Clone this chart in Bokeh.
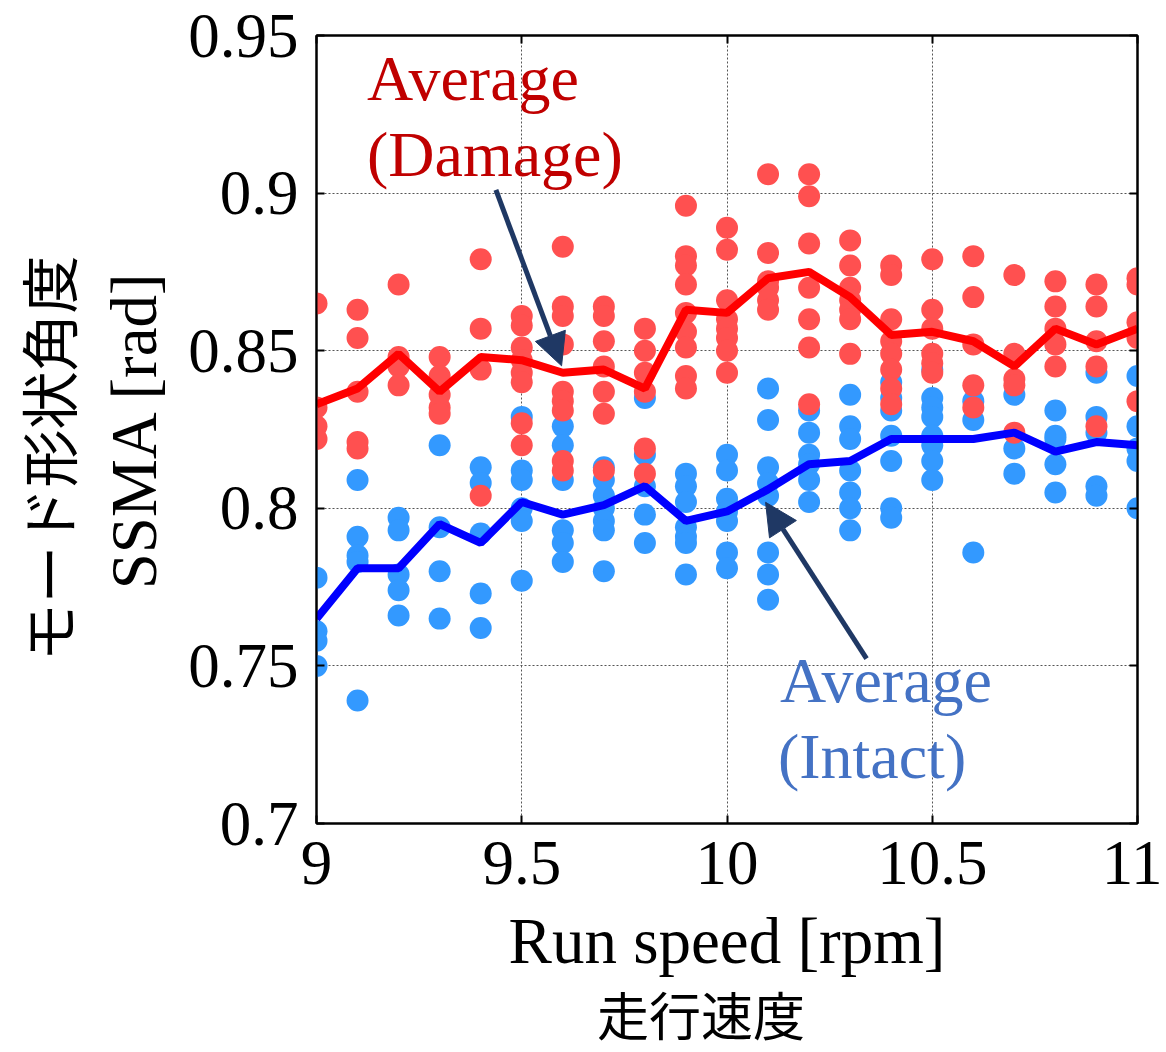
import math
from bokeh.plotting import figure
from bokeh.models import (Range1d, FixedTicker, NumeralTickFormatter, LinearAxis,
                          Label, Arrow, NormalHead, ColumnDataSource)
from bokeh.embed import file_html
from bokeh.resources import INLINE

# ---------------- data ----------------
speeds = [9.0, 9.1, 9.2, 9.3, 9.4, 9.5, 9.6, 9.7, 9.8, 9.9, 10.0,
          10.1, 10.2, 10.3, 10.4, 10.5, 10.6, 10.7, 10.8, 10.9, 11.0]

damage_points = [
    [0.865, 0.832, 0.826, 0.822],
    [0.863, 0.854, 0.837, 0.821, 0.819],
    [0.871, 0.848, 0.845, 0.839],
    [0.848, 0.842, 0.836, 0.832, 0.830],
    [0.879, 0.857, 0.844, 0.804],
    [0.861, 0.858, 0.851, 0.847, 0.843, 0.840, 0.827, 0.820],
    [0.883, 0.864, 0.861, 0.852, 0.837, 0.834, 0.831, 0.815, 0.812],
    [0.864, 0.861, 0.853, 0.845, 0.837, 0.830, 0.812],
    [0.857, 0.850, 0.843, 0.837, 0.819, 0.811],
    [0.896, 0.880, 0.877, 0.871, 0.862, 0.856, 0.851, 0.842, 0.838],
    [0.889, 0.882, 0.866, 0.860, 0.857, 0.854, 0.850, 0.843],
    [0.906, 0.881, 0.872, 0.870, 0.866, 0.863],
    [0.906, 0.899, 0.884, 0.870, 0.860, 0.851, 0.833],
    [0.885, 0.877, 0.870, 0.866, 0.863, 0.860, 0.849],
    [0.877, 0.874, 0.860, 0.853, 0.849, 0.844, 0.838, 0.833],
    [0.879, 0.863, 0.857, 0.849, 0.846, 0.843],
    [0.880, 0.867, 0.852, 0.839, 0.832],
    [0.874, 0.849, 0.841, 0.839, 0.824],
    [0.872, 0.864, 0.857, 0.852, 0.845],
    [0.871, 0.864, 0.853, 0.845, 0.826],
    [0.873, 0.871, 0.859, 0.854, 0.834],
]

intact_points = [
    [0.778, 0.761, 0.758, 0.750],
    [0.809, 0.791, 0.785, 0.783, 0.739],
    [0.797, 0.793, 0.779, 0.774, 0.766],
    [0.820, 0.794, 0.780, 0.765],
    [0.813, 0.808, 0.792, 0.773, 0.762],
    [0.829, 0.812, 0.809, 0.800, 0.796, 0.777],
    [0.826, 0.820, 0.809, 0.793, 0.789, 0.783],
    [0.813, 0.809, 0.804, 0.800, 0.796, 0.793, 0.780],
    [0.835, 0.817, 0.807, 0.798, 0.789],
    [0.811, 0.807, 0.802, 0.794, 0.791, 0.789, 0.779],
    [0.817, 0.812, 0.803, 0.799, 0.796, 0.786, 0.781],
    [0.838, 0.828, 0.813, 0.808, 0.804, 0.786, 0.779, 0.771],
    [0.831, 0.824, 0.817, 0.814, 0.809, 0.802],
    [0.836, 0.826, 0.822, 0.812, 0.805, 0.800, 0.793],
    [0.840, 0.835, 0.831, 0.823, 0.815, 0.800, 0.797],
    [0.844, 0.835, 0.832, 0.829, 0.823, 0.820, 0.815, 0.809],
    [0.834, 0.828, 0.786],
    [0.836, 0.819, 0.811],
    [0.831, 0.823, 0.822, 0.814, 0.805],
    [0.843, 0.829, 0.824, 0.807, 0.804],
    [0.842, 0.826, 0.819, 0.815, 0.800],
]

damage_average = [0.833, 0.838, 0.849, 0.837, 0.848, 0.847, 0.843, 0.844, 0.838, 0.863, 0.862,
                  0.873, 0.875, 0.867, 0.855, 0.856, 0.853, 0.845, 0.857, 0.852, 0.857]
intact_average = [0.765, 0.781, 0.781, 0.795, 0.789, 0.802, 0.798, 0.801, 0.807, 0.796, 0.799,
                  0.806, 0.814, 0.815, 0.822, 0.822, 0.822, 0.824, 0.818, 0.821, 0.820]

x_ticks = [9, 9.5, 10, 10.5, 11]
y_ticks = [0.7, 0.75, 0.8, 0.85, 0.9, 0.95]

# ---------------- figure ----------------
SERIF = "Liberation Serif"
CJK = "Noto Sans CJK JP"

p = figure(frame_width=821, frame_height=788,
           x_range=Range1d(9, 11), y_range=Range1d(0.7, 0.95),
           output_backend="svg", toolbar_location=None,
           min_border_left=316, min_border_right=25,
           min_border_top=35, min_border_bottom=225)
p.background_fill_color = "white"
p.border_fill_color = "white"
p.outline_line_color = "black"
p.outline_line_width = 2

# extra axes for inward ticks on top and right
p.add_layout(LinearAxis(), "above")
p.add_layout(LinearAxis(), "right")

for ax in p.xaxis:
    ax.ticker = FixedTicker(ticks=x_ticks)
for ax in p.yaxis:
    ax.ticker = FixedTicker(ticks=y_ticks)

for ax in list(p.xaxis) + list(p.yaxis):
    ax.formatter = NumeralTickFormatter(format="0.[00]")
    ax.axis_line_color = "black"
    ax.axis_line_width = 2
    ax.major_tick_in = 8
    ax.major_tick_out = 0
    ax.major_tick_line_width = 2
    ax.major_tick_line_color = "black"
    ax.minor_tick_line_color = None
    ax.major_label_text_font = SERIF
    ax.major_label_text_font_size = "63px"
    ax.major_label_text_color = "black"

for ax in [p.above[0], p.right[0]]:
    ax.major_label_text_font_size = "1px"
    ax.major_label_text_color = None

p.below[0].major_label_standoff = 18
p.left[0].major_label_standoff = 18

p.below[0].axis_label = "Run speed [rpm]"
p.left[0].axis_label = "SSMA [rad]"
for ax in [p.below[0], p.left[0]]:
    ax.axis_label_text_font = SERIF
    ax.axis_label_text_font_size = "65px"
    ax.axis_label_text_font_style = "normal"
    ax.axis_label_text_color = "black"
p.below[0].axis_label_standoff = 18
p.left[0].axis_label_standoff = 15

p.xgrid.grid_line_color = "#555555"
p.ygrid.grid_line_color = "#555555"
p.xgrid.grid_line_dash = "2 2"
p.ygrid.grid_line_dash = "2 2"
p.xgrid.grid_line_width = 1
p.ygrid.grid_line_width = 1

# Japanese axis titles as outer, tick-less axes
def title_axis(text, size, standoff):
    return LinearAxis(axis_label=text, ticker=FixedTicker(ticks=[]),
                      axis_line_color=None, major_tick_line_color=None,
                      minor_tick_line_color=None, major_label_text_font_size="1px",
                      major_label_text_color=None,
                      axis_label_text_font=CJK, axis_label_text_font_size=size,
                      axis_label_text_font_style="normal", axis_label_text_color="black",
                      axis_label_standoff=standoff)

p.add_layout(title_axis("モード形状角度\u3000", "58px", 7), "left")
p.add_layout(title_axis("走行速度\u3000", "52px", -4), "below")

# ---------------- marks ----------------
def flatten(xs, groups):
    fx, fy = [], []
    for x, g in zip(xs, groups):
        for v in g:
            fx.append(x)
            fy.append(v)
    return fx, fy

ix, iy = flatten(speeds, intact_points)
dx, dy = flatten(speeds, damage_points)

p.scatter(x="x", y="y", source=ColumnDataSource(dict(x=ix, y=iy)),
          size=22, fill_color="#3399FF", line_color="#3399FF", line_width=0)
p.scatter(x="x", y="y", source=ColumnDataSource(dict(x=dx, y=dy)),
          size=22, fill_color="#FF5050", line_color="#FF5050", line_width=0)

p.line(speeds, damage_average, line_color="#FF0000", line_width=8)
p.line(speeds, intact_average, line_color="#0000FF", line_width=8)

ARROW = "#1F3864"
p.add_layout(Arrow(x_start=9.437, y_start=0.901, x_end=9.597, y_end=0.8452,
                   line_color=ARROW, line_width=5,
                   end=NormalHead(size=32, fill_color=ARROW, line_color=ARROW)))
p.add_layout(Arrow(x_start=10.340, y_start=0.7523, x_end=10.094, y_end=0.8019,
                   line_color=ARROW, line_width=5,
                   end=NormalHead(size=32, fill_color=ARROW, line_color=ARROW)))

# ---------------- annotations ----------------
DRED = "#C00000"
LBLUE = "#4472C4"
p.add_layout(Label(x=9.123, y=0.9362, text="Average", text_font=SERIF, text_font_size="64px",
                   text_color=DRED, text_align="left", text_baseline="alphabetic"))
p.add_layout(Label(x=9.123, y=0.9124, text="(Damage)", text_font=SERIF, text_font_size="64px",
                   text_color=DRED, text_align="left", text_baseline="alphabetic"))
p.add_layout(Label(x=10.129, y=0.7455, text="Average", text_font=SERIF, text_font_size="64px",
                   text_color=LBLUE, text_align="left", text_baseline="alphabetic"))
p.add_layout(Label(x=10.124, y=0.7213, text="(Intact)", text_font=SERIF, text_font_size="64px",
                   text_color=LBLUE, text_align="left", text_baseline="alphabetic"))

open("out.html", "w").write(file_html(p, INLINE))
